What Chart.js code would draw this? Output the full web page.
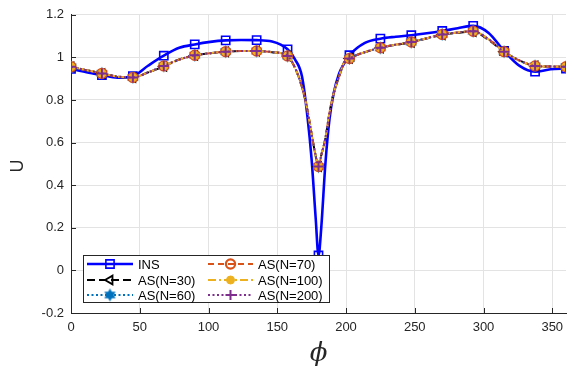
<!DOCTYPE html>
<html>
<head>
<meta charset="utf-8">
<script src="https://cdn.jsdelivr.net/npm/chart.js@4.4.1/dist/chart.umd.min.js"></script>
<style>
  html, body { margin: 0; padding: 0; background: #fff; }
  #wrap { width: 574px; height: 372px; }
</style>
</head>
<body>
<div id="wrap"><canvas id="uChart"></canvas></div>
<script>
// angle grid (deg) - markers sit on the multiples of 22.5
const phi = [0, 11.25, 22.5, 33.75, 45, 56.25, 67.5, 78.75, 90, 101.25, 112.5, 123.75, 135, 146.25,
  157.5, 163, 168, 172, 175, 178, 180, 182, 185, 188, 191, 195, 198.5, 202.5, 213.75, 225, 236.25,
  247.5, 258.75, 270, 281.25, 292.5, 303.75, 315, 326.25, 337.5, 348.75, 360];

const uINS = [0.946, 0.93, 0.917, 0.905, 0.912, 0.962, 1.008, 1.045, 1.061, 1.073, 1.08, 1.082, 1.081, 1.075,
  1.038, 0.99, 0.91, 0.72, 0.52, 0.24, 0.07, 0.2, 0.5, 0.71, 0.83, 0.925, 0.97, 1.01, 1.068, 1.088, 1.097,
  1.104, 1.113, 1.124, 1.137, 1.148, 1.115, 1.03, 0.96, 0.933, 0.944, 0.948];

const uN30 = [0.955, 0.94, 0.924, 0.91, 0.905, 0.93, 0.958, 0.99, 1.009, 1.02, 1.026, 1.03, 1.03, 1.024,
  1.006, 0.95, 0.86, 0.75, 0.64, 0.535, 0.487, 0.54, 0.62, 0.74, 0.83, 0.91, 0.975, 0.995, 1.024, 1.044, 1.059,
  1.071, 1.089, 1.106, 1.115, 1.121, 1.082, 1.026, 0.985, 0.96, 0.957, 0.956];
const uN60 = [0.956, 0.94, 0.925, 0.91, 0.906, 0.93, 0.96, 0.99, 1.01, 1.02, 1.027, 1.03, 1.03, 1.025,
  1.007, 0.95, 0.86, 0.75, 0.64, 0.535, 0.487, 0.54, 0.62, 0.74, 0.83, 0.91, 0.975, 0.995, 1.025, 1.045, 1.06,
  1.072, 1.09, 1.108, 1.117, 1.123, 1.085, 1.027, 0.985, 0.96, 0.957, 0.956];
const uN70 = [0.956, 0.94, 0.925, 0.91, 0.906, 0.93, 0.96, 0.99, 1.01, 1.02, 1.027, 1.03, 1.03, 1.025,
  1.007, 0.95, 0.86, 0.75, 0.64, 0.535, 0.488, 0.54, 0.62, 0.74, 0.83, 0.91, 0.975, 0.995, 1.025, 1.045, 1.06,
  1.072, 1.09, 1.108, 1.117, 1.123, 1.085, 1.027, 0.985, 0.96, 0.957, 0.956];
const uN100 = [0.956, 0.94, 0.925, 0.91, 0.906, 0.93, 0.96, 0.99, 1.01, 1.02, 1.027, 1.03, 1.03, 1.025,
  1.007, 0.95, 0.86, 0.75, 0.64, 0.535, 0.488, 0.54, 0.62, 0.74, 0.83, 0.91, 0.975, 0.995, 1.025, 1.045, 1.06,
  1.072, 1.09, 1.108, 1.117, 1.123, 1.085, 1.027, 0.985, 0.96, 0.957, 0.956];
const uN200 = [0.956, 0.94, 0.925, 0.91, 0.906, 0.93, 0.96, 0.99, 1.01, 1.02, 1.027, 1.03, 1.03, 1.025,
  1.007, 0.95, 0.86, 0.75, 0.64, 0.535, 0.488, 0.54, 0.62, 0.74, 0.83, 0.91, 0.975, 0.995, 1.025, 1.045, 1.06,
  1.072, 1.09, 1.108, 1.117, 1.123, 1.085, 1.027, 0.985, 0.96, 0.957, 0.956];

const seriesNames = ['INS', 'AS(N=30)', 'AS(N=60)', 'AS(N=70)', 'AS(N=100)', 'AS(N=200)'];
const xTicks = [0, 50, 100, 150, 200, 250, 300, 350];
const yTicks = [-0.2, 0, 0.2, 0.4, 0.6, 0.8, 1, 1.2];

Chart.defaults.font.family = "'Liberation Sans', Arial, sans-serif";

// filled six point star for AS(N=60)
function hexagram(color, r) {
  const c = document.createElement('canvas');
  const s = Math.ceil(r * 2 + 2);
  c.width = s; c.height = s;
  const g = c.getContext('2d');
  g.translate(s / 2, s / 2);
  g.fillStyle = color;
  [-Math.PI / 2, Math.PI / 2].forEach(a0 => {
    g.beginPath();
    for (let k = 0; k < 3; k++) {
      const a = a0 + k * 2 * Math.PI / 3;
      g.lineTo(r * Math.cos(a), r * Math.sin(a));
    }
    g.closePath();
    g.fill();
  });
  return c;
}

const onMarker = r => ctx => (phi[ctx.dataIndex] % 22.5 === 0 ? r : 0);
const pts = vals => phi.map((p, i) => ({ x: p, y: vals[i] }));

function series(label, vals, o) {
  return Object.assign({
    label: label,
    data: pts(vals),
    fill: false,
    cubicInterpolationMode: 'monotone',
    pointRadius: onMarker(o.r),
    pointHoverRadius: onMarker(o.r),
    legendRadius: o.r
  }, o.style);
}

const datasets = [
  series(seriesNames[0], uINS, { r: 5.8, style: {
    borderColor: '#0000ff', borderWidth: 2.6, order: 6,
    pointStyle: 'rect', pointBorderColor: '#0000ff', pointBackgroundColor: 'rgba(0,0,0,0)', pointBorderWidth: 1.6 } }),
  series(seriesNames[1], uN30, { r: 5, style: {
    borderColor: '#000000', borderWidth: 2, borderDash: [8, 4], order: 5,
    pointStyle: 'triangle', pointRotation: -90, pointBorderColor: '#000000', pointBackgroundColor: 'rgba(0,0,0,0)', pointBorderWidth: 1.8 } }),
  series(seriesNames[2], uN60, { r: 6, style: {
    borderColor: '#0072BD', borderWidth: 2, borderDash: [2, 2.5], order: 4,
    pointStyle: hexagram('#0072BD', 6.5), pointBorderColor: '#0072BD', pointBackgroundColor: '#0072BD', pointBorderWidth: 0 } }),
  series(seriesNames[3], uN70, { r: 4.6, style: {
    borderColor: '#D95319', borderWidth: 2, borderDash: [6, 4], order: 3,
    pointStyle: 'circle', pointBorderColor: '#D95319', pointBackgroundColor: 'rgba(0,0,0,0)', pointBorderWidth: 2.2 } }),
  series(seriesNames[4], uN100, { r: 4, style: {
    borderColor: '#EDB120', borderWidth: 2, borderDash: [8, 3, 2, 3], order: 2,
    pointStyle: 'circle', pointBorderColor: '#EDB120', pointBackgroundColor: '#EDB120', pointBorderWidth: 1 } }),
  series(seriesNames[5], uN200, { r: 5, style: {
    borderColor: '#7E2F8E', borderWidth: 2, borderDash: [2, 2.5], order: 1,
    pointStyle: 'cross', pointBorderColor: '#7E2F8E', pointBackgroundColor: '#7E2F8E', pointBorderWidth: 2 } })
];

// MATLAB style inward ticks
const innerTicks = {
  id: 'innerTicks',
  beforeDatasetsDraw(chart) {
    const { ctx, chartArea: a, scales: { x, y } } = chart;
    ctx.save();
    ctx.strokeStyle = '#262626';
    ctx.lineWidth = 1;
    ctx.beginPath();
    xTicks.forEach(v => { const px = Math.round(x.getPixelForValue(v)) + 0.5; ctx.moveTo(px, a.bottom); ctx.lineTo(px, a.bottom - 5); });
    yTicks.forEach(v => { const py = Math.round(y.getPixelForValue(v)) + 0.5; ctx.moveTo(a.left, py); ctx.lineTo(a.left + 5, py); });
    ctx.stroke();
    ctx.restore();
  }
};

// axis titles + boxed two column legend inside the axes
const extras = {
  id: 'extras',
  afterDraw(chart) {
    const { ctx, chartArea: a } = chart;
    ctx.save();
    ctx.fillStyle = '#262626';
    ctx.textAlign = 'center';
    ctx.textBaseline = 'middle';
    ctx.font = "18px 'Liberation Sans', Arial, sans-serif";
    ctx.save();
    ctx.translate(18, (a.top + a.bottom) / 2 + 2);
    ctx.rotate(-Math.PI / 2);
    ctx.fillText('U', 0, 0);
    ctx.restore();
    ctx.font = "italic 26px 'DejaVu Serif', 'Liberation Serif', serif";
    ctx.fillText('\u03D5', (a.left + a.right) / 2, 354);

    const bx = 83, by = 255, bw = 246, bh = 47;
    ctx.fillStyle = '#ffffff';
    ctx.fillRect(bx, by, bw, bh);
    ctx.strokeStyle = '#262626';
    ctx.lineWidth = 1;
    ctx.strokeRect(bx + 0.5, by + 0.5, bw, bh);

    const rows = [264, 280, 295];
    const cols = [{ x0: 87, x1: 133, tx: 138 }, { x0: 208, x1: 253, tx: 258 }];
    chart.data.datasets.forEach((ds, i) => {
      const c = cols[Math.floor(i / 3)], yy = rows[i % 3];
      ctx.save();
      ctx.strokeStyle = ds.borderColor;
      ctx.lineWidth = ds.borderWidth;
      ctx.setLineDash(ds.borderDash || []);
      ctx.beginPath();
      ctx.moveTo(c.x0, yy);
      ctx.lineTo(c.x1, yy);
      ctx.stroke();
      ctx.setLineDash([]);
      ctx.fillStyle = ds.pointBackgroundColor;
      ctx.strokeStyle = ds.pointBorderColor;
      ctx.lineWidth = ds.pointBorderWidth;
      Chart.helpers.drawPoint(ctx, {
        pointStyle: ds.pointStyle, rotation: ds.pointRotation || 0,
        radius: ds.legendRadius, borderWidth: ds.pointBorderWidth
      }, (c.x0 + c.x1) / 2, yy);
      ctx.restore();
      ctx.fillStyle = '#000000';
      ctx.textAlign = 'left';
      ctx.font = "13px 'Liberation Sans', Arial, sans-serif";
      ctx.fillText(ds.label, c.tx, yy + 1);
    });
    ctx.restore();
  }
};

const uChart = new Chart(document.getElementById('uChart'), {
  type: 'line',
  data: { datasets: datasets },
  options: {
    responsive: true,
    maintainAspectRatio: false,
    animation: false,
    layout: { padding: { top: 14, right: 8, left: 0, bottom: 0 } },
    plugins: { legend: { display: false }, tooltip: { enabled: false } },
    scales: {
      x: {
        type: 'linear', min: 0, max: 360,
        afterBuildTicks: s => { s.ticks = xTicks.map(v => ({ value: v })); },
        afterFit: s => { s.height = 59; },
        grid: { color: '#e3e3e3', drawTicks: false },
        border: { color: '#262626', width: 1 },
        ticks: { padding: 7, color: '#262626', font: { size: 13 }, maxRotation: 0 }
      },
      y: {
        min: -0.2, max: 1.2,
        afterBuildTicks: s => { s.ticks = yTicks.map(v => ({ value: v })); },
        afterFit: s => { s.width = 71; },
        grid: { color: '#e3e3e3', drawTicks: false },
        border: { color: '#262626', width: 1 },
        ticks: { padding: 7, color: '#262626', font: { size: 13 },
          callback: v => String(Number(v.toFixed(1))) }
      }
    }
  },
  plugins: [innerTicks, extras]
});
</script>
</body>
</html>
